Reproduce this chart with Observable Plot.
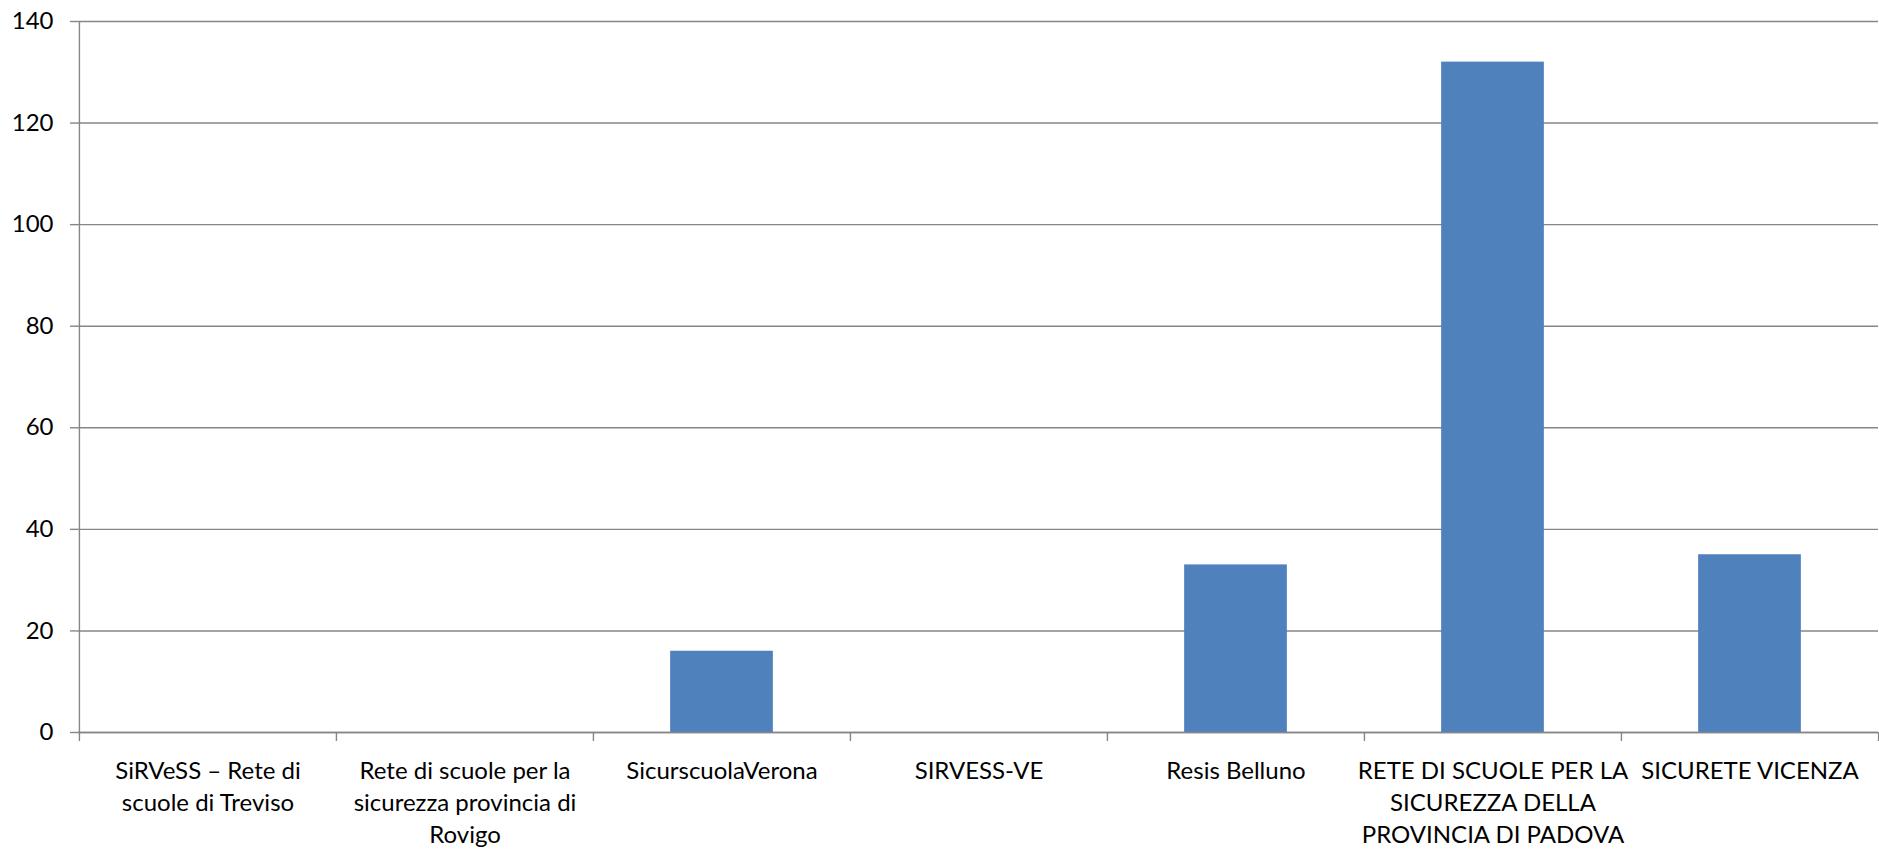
<!DOCTYPE html>
<html>
<head>
<meta charset="utf-8">
<script src="https://cdn.jsdelivr.net/npm/d3@7"></script>
<script src="https://cdn.jsdelivr.net/npm/@observablehq/plot@0.6"></script>
<style>
  html, body { margin: 0; padding: 0; background: #fff; }
  #chart svg { display: block; }
</style>
</head>
<body>
<div id="chart"></div>
<script>
// Data
const categories = [
  "SiRVeSS – Rete di scuole di Treviso",
  "Rete di scuole per la sicurezza provincia di Rovigo",
  "SicurscuolaVerona",
  "SIRVESS-VE",
  "Resis Belluno",
  "RETE DI SCUOLE PER LA SICUREZZA DELLA PROVINCIA DI PADOVA",
  "SICURETE VICENZA"
];
const values = [0, 0, 16, 0, 33, 132, 35];
const tickLabels = [
  "SiRVeSS – Rete di\nscuole di Treviso",
  "Rete di scuole per la\nsicurezza provincia di\nRovigo",
  "SicurscuolaVerona",
  "SIRVESS-VE",
  "Resis Belluno",
  "RETE DI SCUOLE PER LA\nSICUREZZA DELLA\nPROVINCIA DI PADOVA",
  "SICURETE VICENZA"
];
const yTicks = [0, 20, 40, 60, 80, 100, 120, 140];

const data = categories.map((c, i) => ({category: c, value: values[i]}));
const labelOf = new Map(categories.map((c, i) => [c, tickLabels[i]]));

const W = 1879, H = 853;
const mL = 78, mR = 1, mT = 21, mB = 121;
const step = (W - mL - mR) / categories.length;
const gray = "#868686";
const font = "Lato, 'Open Sans', sans-serif";
const fs = 24;

const chart = Plot.plot({
  width: W,
  height: H,
  marginLeft: mL,
  marginRight: mR,
  marginTop: mT,
  marginBottom: mB,
  style: {fontFamily: font, fontSize: fs + "px", color: "#000", background: "#fff"},
  x: {domain: categories, padding: 0, axis: null},
  y: {domain: [0, 140], axis: null},
  marks: [
    Plot.gridY(yTicks, {stroke: gray, strokeOpacity: 1, strokeWidth: 1.4}),
    Plot.axisY(yTicks, {
      tickSize: 8, tickPadding: 17, stroke: gray, strokeWidth: 1.4,
      fill: "#000", fontSize: fs, label: null
    }),
    Plot.barY(data, {
      x: "category", y: "value", fill: "#4F81BD",
      insetLeft: step * 0.3, insetRight: step * 0.3
    }),
    // y axis line
    Plot.ruleX([categories[0]], {dx: -step / 2, y1: 0, y2: 140, stroke: gray, strokeWidth: 1.4}),
    // boundary ticks on the x axis
    Plot.axisX(categories, {
      tickSize: 9, tickFormat: () => "", dx: -step / 2,
      stroke: gray, strokeWidth: 1.4, label: null
    }),
    Plot.axisX([categories[categories.length - 1]], {
      tickSize: 9, tickFormat: () => "", dx: step / 2,
      stroke: gray, strokeWidth: 1.4, label: null
    }),
    // category labels
    Plot.axisX(categories, {
      tickSize: 0, tickPadding: 24, tickFormat: d => labelOf.get(d),
      lineHeight: 1.33, fill: "#000", fontSize: fs, label: null
    }),
    Plot.ruleY([0], {stroke: gray, strokeWidth: 1.4})
  ]
});
document.getElementById("chart").appendChild(chart);
</script>
</body>
</html>
